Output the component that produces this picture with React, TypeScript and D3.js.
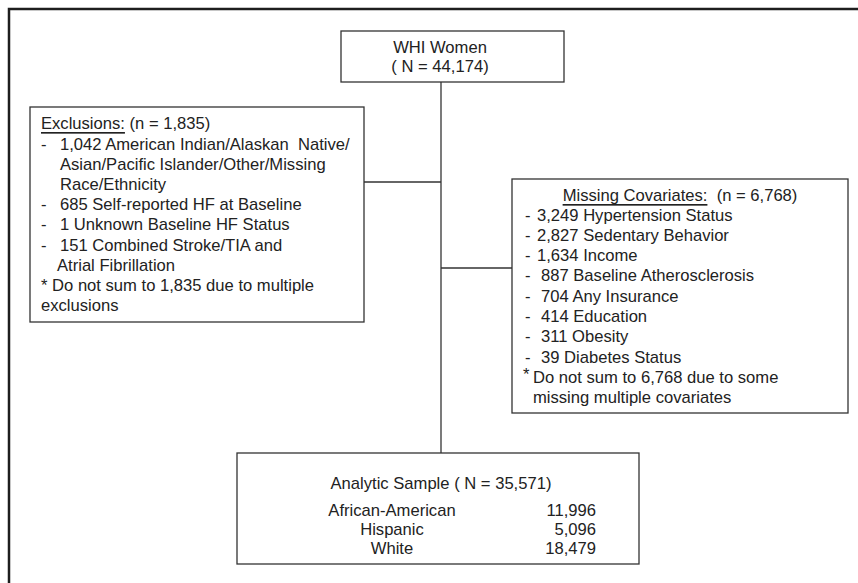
import React from "react";
import * as d3 from "d3";

// flowchart content
const topTitle = ["WHI Women", "( N = 44,174)"];

const exclusionHeader = { label: "Exclusions:", count: " (n = 1,835)" };
// [bullet, text, indent]
const exclusionLines: [string, string, number][] = [
  ["-", "1,042 American Indian/Alaskan  Native/", 0],
  ["", "Asian/Pacific Islander/Other/Missing", 0],
  ["", "Race/Ethnicity", 0],
  ["-", "685 Self-reported HF at Baseline", 0],
  ["-", "1 Unknown Baseline HF Status", 0],
  ["-", "151 Combined Stroke/TIA and", 0],
  ["", "Atrial Fibrillation", -3],
  ["", "* Do not sum to 1,835 due to multiple", -19],
  ["", "exclusions", -19],
];

const covariateHeader = { label: "Missing Covariates:", count: "  (n = 6,768)" };
const covariateLines: [string, string, number][] = [
  ["-", "3,249 Hypertension Status", 0],
  ["-", "2,827 Sedentary Behavior", 0],
  ["-", "1,634 Income", 0],
  ["-", "887 Baseline Atherosclerosis", 4],
  ["-", "704 Any Insurance", 4],
  ["-", "414 Education", 4],
  ["-", "311 Obesity", 4],
  ["-", "39 Diabetes Status", 4],
  ["*", "Do not sum to 6,768 due to some", -4],
  ["", "missing multiple covariates", -4],
];

const sampleTitle = "Analytic Sample ( N = 35,571)";
const races = ["African-American", "Hispanic", "White"];
const raceCounts = [11996, 5096, 18479];

const W = 858;
const H = 583;
const font = "'Liberation Sans', Arial, sans-serif";
const ink = "#222";
const boxStroke = "#333";
const fs = 16.6;

const fmt = d3.format(",");

export default function App() {
  // row positions
  const exRow = d3.scaleLinear().domain([0, 1]).range([144, 164.2]);
  const covRow = d3.scaleLinear().domain([0, 1]).range([215, 235.3]);
  const raceRow = d3.scaleLinear().domain([0, 1]).range([510, 529]);
  const topRow = d3.scaleLinear().domain([0, 1]).range([47, 66]);

  const trunkX = 441;

  return (
    <svg
      width={W}
      height={H}
      style={{ position: "absolute", left: 0, top: 0, background: "#fff" }}
      fontFamily={font}
      fontSize={fs}
      fill={ink}
    >
      {/* outer frame */}
      <rect x={9} y={9} width={W + 20} height={H + 20} fill="none" stroke="#1e1e1e" strokeWidth={2.5} />

      {/* connectors */}
      <g stroke={boxStroke} strokeWidth={1.3}>
        <line x1={trunkX} y1={82} x2={trunkX} y2={453} />
        <line x1={364} y1={182} x2={trunkX} y2={182} />
        <line x1={trunkX} y1={268} x2={512} y2={268} />
      </g>

      {/* top box */}
      <rect x={341} y={31} width={223} height={51} fill="#fff" stroke={boxStroke} strokeWidth={1.3} />
      {topTitle.map((t, i) => (
        <text key={t} x={440} y={topRow(i)} textAnchor="middle" dominantBaseline="central">
          {t}
        </text>
      ))}

      {/* exclusions box */}
      <rect x={30} y={107} width={334} height={215} fill="#fff" stroke={boxStroke} strokeWidth={1.3} />
      <text x={41} y={123} dominantBaseline="central">
        <tspan textDecoration="underline">{exclusionHeader.label}</tspan>
        <tspan>{exclusionHeader.count}</tspan>
      </text>
      {exclusionLines.map(([b, t, ind], i) => (
        <g key={i}>
          {b && (
            <text x={41} y={exRow(i)} dominantBaseline="central">
              {b}
            </text>
          )}
          <text x={60 + ind} y={exRow(i)} dominantBaseline="central" xmlSpace="preserve">
            {t}
          </text>
        </g>
      ))}

      {/* missing covariates box */}
      <rect x={512} y={179} width={336} height={234} fill="#fff" stroke={boxStroke} strokeWidth={1.3} />
      <text x={680} y={195} textAnchor="middle" dominantBaseline="central" xmlSpace="preserve">
        <tspan textDecoration="underline">{covariateHeader.label}</tspan>
        <tspan>{covariateHeader.count}</tspan>
      </text>
      {covariateLines.map(([b, t, ind], i) => (
        <g key={i}>
          {b && (
            <text
              x={b === "*" ? 523 : 525}
              y={covRow(i) + (b === "*" ? -3 : 0)}
              dominantBaseline="central"
            >
              {b}
            </text>
          )}
          <text x={537 + ind} y={covRow(i)} dominantBaseline="central">
            {t}
          </text>
        </g>
      ))}

      {/* analytic sample box */}
      <rect x={237} y={453} width={402} height={111} fill="#fff" stroke={boxStroke} strokeWidth={1.3} />
      <text x={441} y={483} textAnchor="middle" dominantBaseline="central">
        {sampleTitle}
      </text>
      {races.map((r, i) => (
        <g key={r}>
          <text x={392} y={raceRow(i)} textAnchor="middle" dominantBaseline="central">
            {r}
          </text>
          <text x={596} y={raceRow(i)} textAnchor="end" dominantBaseline="central">
            {fmt(raceCounts[i])}
          </text>
        </g>
      ))}
    </svg>
  );
}
